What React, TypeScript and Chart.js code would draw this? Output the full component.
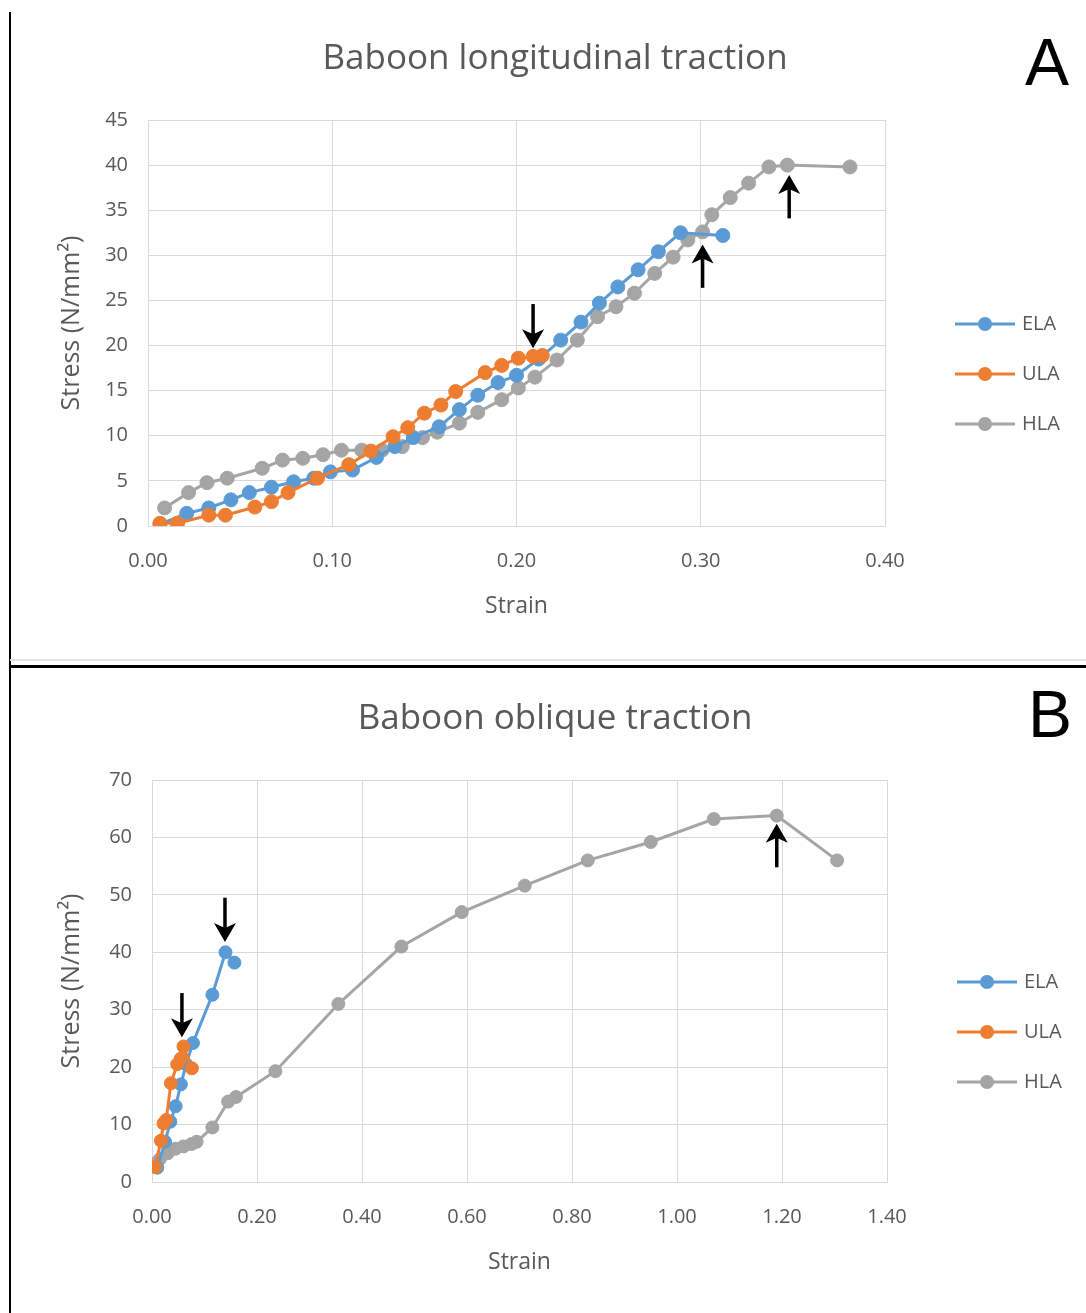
import React, { useEffect, useRef } from 'react';
import { Chart, registerables } from 'chart.js';

Chart.register(...registerables);

const FONT = '"Open Sans", Lato, "DejaVu Sans", sans-serif';
const TEXT = '#595959';
const GRID = '#d9d9d9';

const seriesNames = ['ELA', 'ULA', 'HLA'];
const seriesColors = ['#5B9BD5', '#ED7D31', '#A5A5A5'];
const seriesOrder = [1, 0, 2];

// ---------- Panel A: Baboon longitudinal traction ----------
const titleA = 'Baboon longitudinal traction';
const xTicksA = [0, 0.1, 0.2, 0.3, 0.4];
const yTicksA = [0, 5, 10, 15, 20, 25, 30, 35, 40, 45];

const aElaStrain = [0.0065, 0.021, 0.033, 0.045, 0.055, 0.067, 0.079, 0.09, 0.099, 0.111, 0.124, 0.134, 0.144, 0.158, 0.169, 0.179, 0.19, 0.2, 0.212, 0.224, 0.235, 0.245, 0.255, 0.266, 0.277, 0.289, 0.312];
const aElaStress = [0.2, 1.4, 2.0, 2.9, 3.7, 4.3, 4.9, 5.3, 6.0, 6.2, 7.6, 8.8, 9.8, 11.0, 12.9, 14.5, 15.9, 16.7, 18.5, 20.6, 22.6, 24.7, 26.5, 28.4, 30.4, 32.5, 32.2];

const aUlaStrain = [0.0065, 0.016, 0.033, 0.042, 0.058, 0.067, 0.076, 0.092, 0.109, 0.121, 0.133, 0.141, 0.15, 0.159, 0.167, 0.183, 0.192, 0.201, 0.209, 0.214];
const aUlaStress = [0.3, 0.3, 1.2, 1.2, 2.1, 2.7, 3.7, 5.3, 6.8, 8.3, 9.9, 10.9, 12.5, 13.4, 14.9, 17.0, 17.8, 18.6, 18.8, 18.9];

const aHlaStrain = [0.009, 0.022, 0.032, 0.043, 0.062, 0.073, 0.084, 0.095, 0.105, 0.116, 0.127, 0.138, 0.149, 0.157, 0.169, 0.179, 0.192, 0.201, 0.21, 0.222, 0.233, 0.244, 0.254, 0.264, 0.275, 0.285, 0.293, 0.301, 0.306, 0.316, 0.326, 0.337, 0.347, 0.381];
const aHlaStress = [2.0, 3.7, 4.8, 5.3, 6.4, 7.3, 7.5, 7.9, 8.4, 8.4, 8.4, 8.8, 9.8, 10.4, 11.4, 12.6, 14.0, 15.3, 16.5, 18.4, 20.6, 23.2, 24.3, 25.8, 28.0, 29.8, 31.7, 32.6, 34.5, 36.4, 38.0, 39.8, 40.0, 39.8];

const aArrowStrain = [0.209, 0.301, 0.348];
const aArrowTip = [19.7, 31.2, 38.9];
const aArrowTail = [24.6, 26.4, 34.1];

// ---------- Panel B: Baboon oblique traction ----------
const titleB = 'Baboon oblique traction';
const xTicksB = [0, 0.2, 0.4, 0.6, 0.8, 1.0, 1.2, 1.4];
const yTicksB = [0, 10, 20, 30, 40, 50, 60, 70];

const bElaStrain = [0.01, 0.025, 0.035, 0.045, 0.055, 0.065, 0.078, 0.115, 0.14, 0.157];
const bElaStress = [2.5, 7.0, 10.5, 13.2, 17.0, 20.5, 24.2, 32.6, 40.0, 38.2];

const bUlaStrain = [0.006, 0.017, 0.022, 0.027, 0.036, 0.048, 0.055, 0.06, 0.076];
const bUlaStress = [2.6, 7.2, 10.2, 10.8, 17.2, 20.5, 21.5, 23.6, 19.8];

const bHlaStrain = [0.005, 0.015, 0.03, 0.045, 0.06, 0.075, 0.085, 0.115, 0.145, 0.16, 0.235, 0.355, 0.475, 0.59, 0.71, 0.83, 0.95, 1.07, 1.19, 1.305];
const bHlaStress = [3.2, 4.0, 5.0, 5.8, 6.2, 6.6, 7.0, 9.5, 14.0, 14.8, 19.3, 31.0, 41.0, 47.0, 51.6, 56.0, 59.2, 63.2, 63.8, 56.0];

const bArrowStrain = [0.057, 0.139, 1.19];
const bArrowTip = [25.2, 41.8, 62.4];
const bArrowTail = [32.9, 49.5, 54.8];

const zip = (xs: number[], ys: number[]) => xs.map((x, i) => ({ x, y: ys[i] }));

const overlayPlugin = {
  id: 'overlay',
  afterDatasetsDraw(chart: any, _args: any, opts: any) {
    const { ctx, scales } = chart;
    const xs = scales.x;
    const ys = scales.y;
    ctx.save();
    ctx.fillStyle = '#000';
    ctx.strokeStyle = '#000';
    const arrows = opts.arrows || [];
    arrows.forEach((a: any) => {
      const px = xs.getPixelForValue(a.x);
      const tip = ys.getPixelForValue(a.tip);
      const tail = ys.getPixelForValue(a.tail);
      const dir = tail > tip ? 1 : -1;
      const headLen = 19;
      const half = 11;
      const notch = 5;
      const base = tip + dir * headLen;
      ctx.lineWidth = 3.5;
      ctx.beginPath();
      ctx.moveTo(px, tail);
      ctx.lineTo(px, base - dir * notch);
      ctx.stroke();
      ctx.beginPath();
      ctx.moveTo(px, tip);
      ctx.lineTo(px - half, base);
      ctx.lineTo(px, base - dir * notch);
      ctx.lineTo(px + half, base);
      ctx.closePath();
      ctx.fill();
    });
    ctx.restore();
  },
  afterDraw(chart: any, _args: any, opts: any) {
    const { ctx, chartArea: ca } = chart;
    ctx.save();
    ctx.fillStyle = TEXT;
    ctx.font = `35px ${FONT}`;
    ctx.textAlign = 'center';
    ctx.textBaseline = 'middle';
    ctx.fillText(opts.title, chart.width / 2 + 7, ca.top - 61);

    const midY = (ca.top + ca.bottom) / 2 + 1;
    chart.data.datasets.forEach((ds: any, i: number) => {
      const yy = midY + i * 50;
      const x0 = ca.right + 70;
      ctx.strokeStyle = ds.borderColor;
      ctx.lineWidth = 3;
      ctx.beginPath();
      ctx.moveTo(x0, yy);
      ctx.lineTo(x0 + 60, yy);
      ctx.stroke();
      ctx.fillStyle = ds.borderColor;
      ctx.beginPath();
      ctx.arc(x0 + 30, yy, 7, 0, Math.PI * 2);
      ctx.fill();
      ctx.fillStyle = TEXT;
      ctx.font = `20px ${FONT}`;
      ctx.textAlign = 'left';
      ctx.textBaseline = 'middle';
      ctx.fillText(ds.label, x0 + 67, yy);
    });
    ctx.restore();
  },
};

type PanelProps = {
  top: number;
  height: number;
  title: string;
  xTicks: number[];
  yTicks: number[];
  strains: number[][];
  stresses: number[][];
  arrowStrain: number[];
  arrowTip: number[];
  arrowTail: number[];
  pad: { left: number; right: number; top: number; bottom: number };
  yWidth: number;
  xHeight: number;
  pointRadius: number;
};

function Panel(p: PanelProps) {
  const ref = useRef<HTMLCanvasElement | null>(null);
  useEffect(() => {
    if (!ref.current) return;
    const datasets = seriesNames.map((name, i) => ({
      label: name,
      data: zip(p.strains[i], p.stresses[i]),
      borderColor: seriesColors[i],
      backgroundColor: seriesColors[i],
      pointBackgroundColor: seriesColors[i],
      pointBorderColor: seriesColors[i],
      pointBorderWidth: 1,
      pointRadius: p.pointRadius,
      borderWidth: 3,
      tension: 0,
      order: seriesOrder[i],
    }));
    const tickFont = { family: FONT, size: 20 };
    const chart = new Chart(ref.current, {
      type: 'line',
      data: { datasets },
      plugins: [overlayPlugin],
      options: {
        animation: false,
        responsive: false,
        maintainAspectRatio: false,
        layout: { padding: p.pad },
        plugins: {
          legend: { display: false },
          title: { display: false },
          tooltip: { enabled: false },
          overlay: {
            title: p.title,
            arrows: p.arrowStrain.map((x, i) => ({ x, tip: p.arrowTip[i], tail: p.arrowTail[i] })),
          },
        } as any,
        scales: {
          x: {
            type: 'linear',
            min: p.xTicks[0],
            max: p.xTicks[p.xTicks.length - 1],
            afterBuildTicks: (s: any) => {
              s.ticks = p.xTicks.map((v) => ({ value: v }));
            },
            afterFit: (s: any) => {
              s.height = p.xHeight;
            },
            ticks: {
              color: TEXT,
              font: tickFont,
              padding: 23,
              maxRotation: 0,
              autoSkip: false,
              callback: (v: any) => Number(v).toFixed(2),
            },
            grid: { color: GRID, drawTicks: false, lineWidth: 1 },
            border: { color: GRID },
            title: { display: true, text: 'Strain', color: TEXT, font: { family: FONT, size: 23 }, padding: 0 },
          },
          y: {
            type: 'linear',
            min: p.yTicks[0],
            max: p.yTicks[p.yTicks.length - 1],
            afterBuildTicks: (s: any) => {
              s.ticks = p.yTicks.map((v) => ({ value: v }));
            },
            afterFit: (s: any) => {
              s.width = p.yWidth;
            },
            ticks: { color: TEXT, font: tickFont, padding: 20, autoSkip: false },
            grid: { color: GRID, drawTicks: false, lineWidth: 1 },
            border: { color: GRID },
            title: {
              display: true,
              text: 'Stress (N/mm²)',
              color: TEXT,
              font: { family: FONT, size: 25 },
              padding: { top: 9, bottom: 0 },
            },
          },
        },
      } as any,
    });
    return () => chart.destroy();
  }, []);
  return (
    <canvas
      ref={ref}
      width={1076}
      height={p.height}
      style={{ position: 'absolute', left: 10, top: p.top, width: 1076, height: p.height }}
    />
  );
}

export default function App() {
  return (
    <div style={{ position: 'absolute', left: 0, top: 0, width: 1086, height: 1313, background: '#fff', overflow: 'hidden' }}>
      <Panel
        top={0}
        height={662}
        title={titleA}
        xTicks={xTicksA}
        yTicks={yTicksA}
        strains={[aElaStrain, aUlaStrain, aHlaStrain]}
        stresses={[aElaStress, aUlaStress, aHlaStress]}
        arrowStrain={aArrowStrain}
        arrowTip={aArrowTip}
        arrowTail={aArrowTail}
        pad={{ left: 38, right: 201, top: 120, bottom: 42 }}
        yWidth={100}
        xHeight={94}
        pointRadius={7}
      />
      <Panel
        top={672}
        height={641}
        title={titleB}
        xTicks={xTicksB}
        yTicks={yTicksB}
        strains={[bElaStrain, bUlaStrain, bHlaStrain]}
        stresses={[bElaStress, bUlaStress, bHlaStress]}
        arrowStrain={bArrowStrain}
        arrowTip={bArrowTip}
        arrowTail={bArrowTail}
        pad={{ left: 38, right: 199, top: 108, bottom: 37 }}
        yWidth={104}
        xHeight={94}
        pointRadius={6.5}
      />
      <div style={{ position: 'absolute', left: 9, top: 12, width: 2, height: 1301, background: '#000' }} />
      <div style={{ position: 'absolute', left: 10, top: 659, width: 1076, height: 2, background: '#e2e2e2' }} />
      <div style={{ position: 'absolute', left: 10, top: 665, width: 1076, height: 3, background: '#000' }} />
      <div style={{ position: 'absolute', left: 1025, top: 22, fontFamily: '"Liberation Sans", Arial, sans-serif', fontSize: 66, lineHeight: '80px', color: '#000' }}>A</div>
      <div style={{ position: 'absolute', left: 1028, top: 674, fontFamily: '"Liberation Sans", Arial, sans-serif', fontSize: 66, lineHeight: '80px', color: '#000' }}>B</div>
    </div>
  );
}
